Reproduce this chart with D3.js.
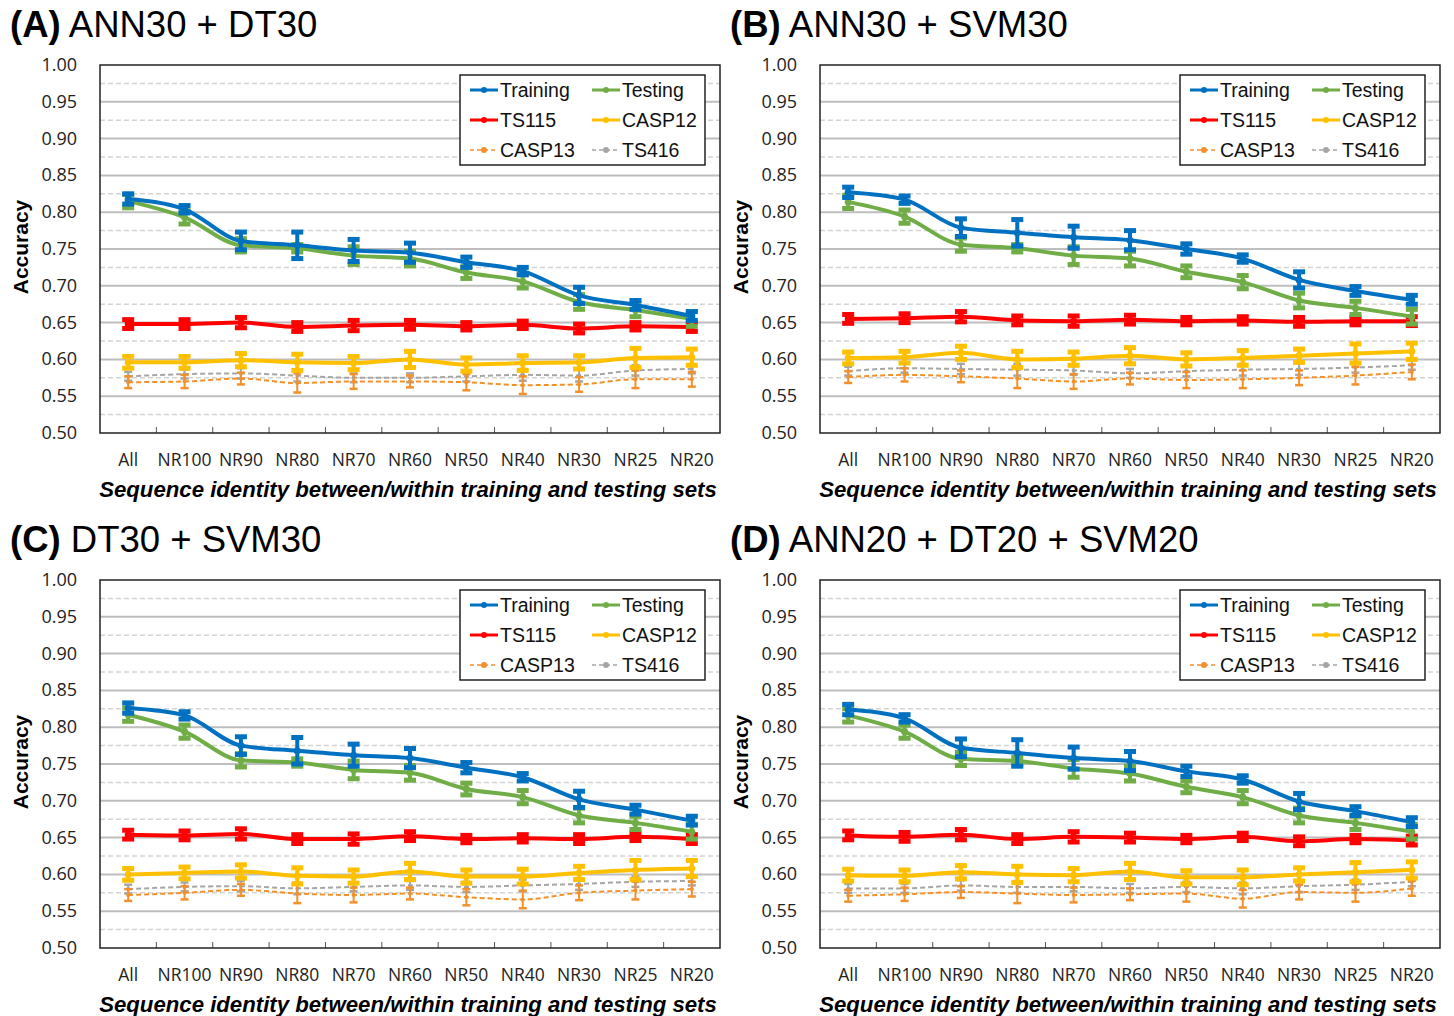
<!doctype html>
<html>
<head>
<meta charset="utf-8">
<script src="https://cdn.jsdelivr.net/npm/d3@7/dist/d3.min.js"></script>
<style>
  body { margin: 0; background: #fff; }
  text { font-family: "Liberation Sans", Arial, sans-serif; }
</style>
</head>
<body>
<script>
// categories and series names
var categories = ["All", "NR100", "NR90", "NR80", "NR70", "NR60", "NR50", "NR40", "NR30", "NR25", "NR20"];
var seriesNames = ["Training", "Testing", "TS115", "CASP12", "CASP13", "TS416"];
var yTicks = [0.50, 0.55, 0.60, 0.65, 0.70, 0.75, 0.80, 0.85, 0.90, 0.95, 1.00];

// (A) ANN30 + DT30
var trainA = [0.818, 0.804, 0.761, 0.755, 0.748, 0.745, 0.732, 0.720, 0.687, 0.674, 0.659];
var testA  = [0.815, 0.793, 0.755, 0.751, 0.741, 0.737, 0.718, 0.706, 0.678, 0.667, 0.655];
var ts115A = [0.648, 0.648, 0.650, 0.644, 0.646, 0.647, 0.645, 0.647, 0.642, 0.645, 0.644];
var casp12A = [0.596, 0.596, 0.599, 0.596, 0.595, 0.600, 0.593, 0.595, 0.596, 0.602, 0.603];
var casp13A = [0.569, 0.570, 0.574, 0.568, 0.570, 0.570, 0.569, 0.565, 0.566, 0.573, 0.573];
var ts416A = [0.577, 0.580, 0.581, 0.578, 0.575, 0.575, 0.577, 0.579, 0.578, 0.585, 0.587];

// (B) ANN30 + SVM30
var trainB = [0.827, 0.817, 0.779, 0.772, 0.766, 0.762, 0.750, 0.737, 0.708, 0.693, 0.681];
var testB  = [0.814, 0.794, 0.756, 0.751, 0.741, 0.737, 0.719, 0.705, 0.680, 0.670, 0.658];
var ts115B = [0.655, 0.656, 0.658, 0.653, 0.652, 0.654, 0.652, 0.653, 0.651, 0.652, 0.652];
var casp12B = [0.602, 0.603, 0.609, 0.600, 0.601, 0.605, 0.600, 0.602, 0.605, 0.608, 0.611];
var casp13B = [0.576, 0.579, 0.577, 0.574, 0.570, 0.574, 0.572, 0.573, 0.575, 0.578, 0.583];
var ts416B = [0.584, 0.588, 0.587, 0.586, 0.585, 0.581, 0.584, 0.586, 0.587, 0.589, 0.592];

// (C) DT30 + SVM30
var trainC = [0.826, 0.816, 0.775, 0.768, 0.762, 0.758, 0.745, 0.732, 0.702, 0.688, 0.673];
var testC  = [0.817, 0.794, 0.755, 0.752, 0.742, 0.738, 0.716, 0.705, 0.680, 0.670, 0.658];
var ts115C = [0.654, 0.653, 0.655, 0.648, 0.648, 0.652, 0.648, 0.649, 0.648, 0.651, 0.648];
var casp12C = [0.600, 0.602, 0.604, 0.598, 0.597, 0.604, 0.597, 0.597, 0.602, 0.606, 0.608];
var casp13C = [0.572, 0.575, 0.579, 0.574, 0.572, 0.574, 0.569, 0.566, 0.575, 0.578, 0.580];
var ts416C = [0.580, 0.583, 0.584, 0.581, 0.583, 0.585, 0.583, 0.585, 0.587, 0.590, 0.591];

// (D) ANN20 + DT20 + SVM20
var trainD = [0.824, 0.812, 0.772, 0.765, 0.758, 0.754, 0.740, 0.729, 0.699, 0.686, 0.671];
var testD  = [0.816, 0.794, 0.757, 0.754, 0.744, 0.737, 0.719, 0.705, 0.680, 0.670, 0.658];
var ts115D = [0.653, 0.651, 0.654, 0.648, 0.651, 0.650, 0.648, 0.651, 0.645, 0.648, 0.646];
var casp12D = [0.599, 0.598, 0.603, 0.600, 0.599, 0.604, 0.596, 0.596, 0.600, 0.603, 0.606];
var casp13D = [0.571, 0.573, 0.576, 0.574, 0.572, 0.573, 0.574, 0.567, 0.576, 0.575, 0.581];
var ts416D = [0.581, 0.581, 0.585, 0.583, 0.583, 0.581, 0.583, 0.581, 0.584, 0.586, 0.590];

// error bar half-lengths (similar in all four panels)
var trainErr = [0.007, 0.005, 0.012, 0.018, 0.015, 0.013, 0.007, 0.005, 0.011, 0.006, 0.006];
var testErr  = [0.009, 0.009, 0.009, 0.005, 0.012, 0.010, 0.008, 0.009, 0.010, 0.009, 0.010];
var ts115Err = [0.006, 0.006, 0.007, 0.006, 0.007, 0.006, 0.005, 0.005, 0.006, 0.005, 0.006];
var casp12Err = [0.008, 0.008, 0.009, 0.011, 0.009, 0.011, 0.009, 0.010, 0.009, 0.013, 0.011];
var casp13Err = [0.008, 0.009, 0.008, 0.013, 0.010, 0.008, 0.011, 0.012, 0.010, 0.012, 0.010];
var ts416Err = [0.006, 0.006, 0.007, 0.008, 0.006, 0.006, 0.007, 0.008, 0.008, 0.007, 0.006];

var colors = ["#0070C0", "#70AD47", "#FF0000", "#FFC000", "#F4902A", "#A5A5A5"];
var dashed = [false, false, false, false, true, true];
var errs = [trainErr, testErr, ts115Err, casp12Err, casp13Err, ts416Err];

var svg = d3.select("body").append("svg").attr("width", 1454).attr("height", 1016);

function drawPanel(left, top, letter, name, values) {
    var w = 620, h = 368;
    var g = svg.append("g").attr("transform", "translate(" + left + "," + top + ")");

    var x = d3.scaleBand().domain(categories).range([0, w]);
    var y = d3.scaleLinear().domain([0.5, 1.0]).range([h, 0]);

    // title
    var t = svg.append("text").attr("x", left - 90).attr("y", top - 28)
        .attr("font-size", 36.5).attr("fill", "#000");
    t.append("tspan").attr("font-weight", "bold").text("(" + letter + ")");
    t.append("tspan").text(" " + name);

    // minor dashed gridlines
    var minors = d3.range(0.525, 1.0, 0.05);
    g.selectAll(".minor").data(minors).enter().append("line")
        .attr("x1", 0).attr("x2", w)
        .attr("y1", function(d) { return y(d); }).attr("y2", function(d) { return y(d); })
        .attr("stroke", "#D4D4D4").attr("stroke-width", 1.5).attr("stroke-dasharray", "5,3");

    // major gridlines
    g.selectAll(".major").data(yTicks.slice(1, -1)).enter().append("line")
        .attr("x1", 0).attr("x2", w)
        .attr("y1", function(d) { return y(d); }).attr("y2", function(d) { return y(d); })
        .attr("stroke", "#BEBEBE").attr("stroke-width", 2);

    // y tick labels
    g.selectAll(".ylab").data(yTicks).enter().append("text")
        .attr("x", -23).attr("y", function(d) { return y(d) + 6; })
        .attr("text-anchor", "end").attr("font-size", 18)
        .style("font-family", "'Open Sans', sans-serif").attr("fill", "#222")
        .text(function(d) { return d.toFixed(2); });

    // x category labels
    g.selectAll(".xlab").data(categories).enter().append("text")
        .attr("x", function(d) { return x(d) + x.bandwidth() / 2; }).attr("y", h + 33)
        .attr("text-anchor", "middle").attr("font-size", 17.5)
        .style("font-family", "'Open Sans', sans-serif").attr("fill", "#222")
        .text(function(d) { return d; });

    // inside ticks between categories
    g.selectAll(".xtick").data(categories.slice(1)).enter().append("line")
        .attr("x1", function(d) { return x(d); }).attr("x2", function(d) { return x(d); })
        .attr("y1", h).attr("y2", h - 6).attr("stroke", "#555").attr("stroke-width", 1);

    // axis titles
    g.append("text").attr("x", w / 2 - 2).attr("y", h + 64).attr("text-anchor", "middle")
        .attr("font-size", 22.2).attr("font-weight", "bold").attr("font-style", "italic")
        .text("Sequence identity between/within training and testing sets");
    g.append("text").attr("transform", "translate(-72," + (h / 2 - 2) + ") rotate(-90)")
        .attr("text-anchor", "middle").attr("font-size", 21).attr("font-weight", "bold")
        .text("Accuracy");

    var cx = function(i) { return x(categories[i]) + x.bandwidth() / 2; };

    // series, drawn from the bottom ones up
    for (var s = 5; s >= 0; s--) {
        var vals = values[s], err = errs[s];
        var lw = dashed[s] ? 2 : 4;
        var line = d3.line().x(function(d, i) { return cx(i); }).y(function(d) { return y(d); })
            .curve(d3.curveMonotoneX);
        g.append("path").attr("d", line(vals)).attr("fill", "none")
            .attr("stroke", colors[s]).attr("stroke-width", lw)
            .attr("stroke-dasharray", dashed[s] ? "5,3" : null);

        var eb = g.append("g").attr("stroke", colors[s]);
        var capW = dashed[s] ? 4 : 6, capT = dashed[s] ? 2.5 : 5;
        vals.forEach(function(v, i) {
            var px = cx(i);
            eb.append("line").attr("x1", px).attr("x2", px)
                .attr("y1", y(v - err[i])).attr("y2", y(v + err[i]))
                .attr("stroke-width", dashed[s] ? 2 : 4);
            [v - err[i], v + err[i]].forEach(function(e) {
                eb.append("line").attr("x1", px - capW).attr("x2", px + capW)
                    .attr("y1", y(e)).attr("y2", y(e)).attr("stroke-width", capT);
            });
            eb.append("circle").attr("cx", px).attr("cy", y(v)).attr("r", dashed[s] ? 2 : 3.5)
                .attr("fill", colors[s]).attr("stroke", "none");
        });
    }

    // plot frame
    g.append("rect").attr("width", w).attr("height", h).attr("fill", "none")
        .attr("stroke", "#222").attr("stroke-width", 1.5);

    // legend
    var lg = g.append("g").attr("transform", "translate(" + (w - 260) + ",10)");
    lg.append("rect").attr("width", 245).attr("height", 90).attr("fill", "#fff")
        .attr("stroke", "#222").attr("stroke-width", 1.5);
    seriesNames.forEach(function(nm, s) {
        var col = s % 2, row = Math.floor(s / 2);
        var lx = 10 + col * 122, ly = 15 + row * 30;
        lg.append("line").attr("x1", lx).attr("x2", lx + 28).attr("y1", ly).attr("y2", ly)
            .attr("stroke", colors[s]).attr("stroke-width", dashed[s] ? 1.5 : 3)
            .attr("stroke-dasharray", dashed[s] ? "4,3" : null);
        lg.append("circle").attr("cx", lx + 14).attr("cy", ly).attr("r", 3).attr("fill", colors[s]);
        lg.append("text").attr("x", lx + 30).attr("y", ly + 7).attr("font-size", 19.5)
            .attr("fill", "#111").text(nm);
    });
}

drawPanel(100, 65, "A", "ANN30 + DT30", [trainA, testA, ts115A, casp12A, casp13A, ts416A]);
drawPanel(820, 65, "B", "ANN30 + SVM30", [trainB, testB, ts115B, casp12B, casp13B, ts416B]);
drawPanel(100, 580, "C", "DT30 + SVM30", [trainC, testC, ts115C, casp12C, casp13C, ts416C]);
drawPanel(820, 580, "D", "ANN20 + DT20 + SVM20", [trainD, testD, ts115D, casp12D, casp13D, ts416D]);
</script>
</body>
</html>
